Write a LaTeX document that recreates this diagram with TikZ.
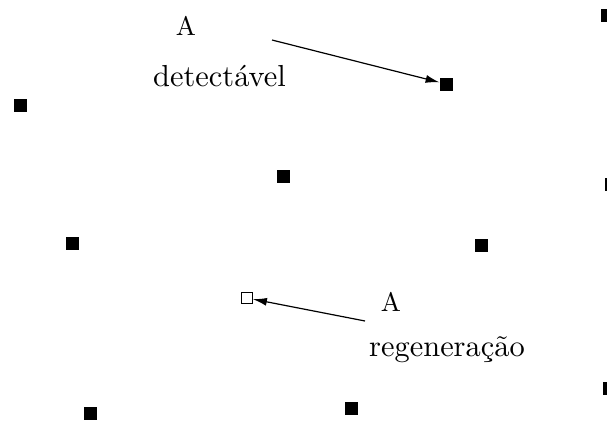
\documentclass[tikz,border=0pt]{standalone}
\usepackage{fontspec}
\usetikzlibrary{arrows.meta}
% the 10pt design of Latin Modern, used at every size
\newfontfamily\lmten[Extension=.otf]{lmroman10-regular}
\begin{document}
\begin{tikzpicture}[x=0.5pt,y=-0.5pt,
  dot/.style={draw=black,fill=black,minimum size=6pt,inner sep=0pt,line width=0.4pt},
  hollow/.style={draw=black,fill=white,minimum size=5.5pt,inner sep=0pt,line width=0.4pt},
  lbl/.style={font=\lmten\fontsize{15.2}{18}\selectfont,inner sep=0pt},
  tag/.style={font=\lmten\fontsize{13.4}{16}\selectfont,inner sep=0pt},
  pointer/.style={-{Latex[length=7pt,width=4pt]},line width=0.6pt}]
\useasboundingbox (0,0) rectangle (607,423);
\clip (0,0) rectangle (607,423);
% filled markers
\node[dot] (p1) at (20,105) {};
\node[dot] (p2) at (283,176) {};
\node[dot] (p3) at (72,243) {};
\node[dot] (p4) at (481,245) {};
\node[dot] (p5) at (446,84) {};
\node[dot] (p6) at (90,413) {};
\node[dot] (p7) at (351,408) {};
\node[dot] (p8) at (607,15) {};
\node[dot] (p9) at (611,184) {};
\node[dot] (p10) at (609,388) {};
% hollow marker
\node[hollow] (q) at (247,298) {};
% labels
\node[tag] (a1) at (186,26) {A};
\node[lbl] (d1) at (219.5,76) {detect\'avel};
\node[tag] (a2) at (391,302) {A};
\node[lbl] (r2) at (447,350) {regenera\c{c}\~ao};
% arrows
\coordinate (s1) at (272,40);
\coordinate (s2) at (365,321);
\draw[pointer] (s1) -- (p5);
\draw[pointer] (s2) -- (q);
\end{tikzpicture}
\end{document}
